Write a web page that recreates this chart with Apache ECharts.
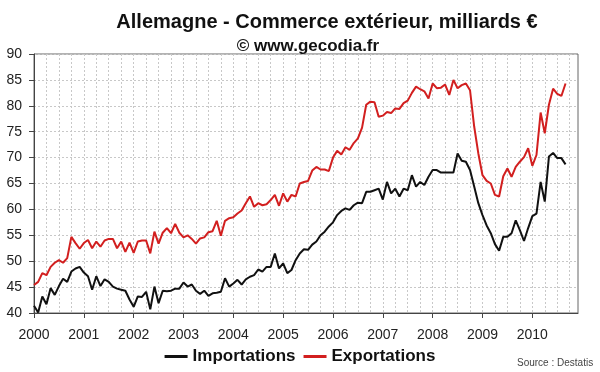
<!DOCTYPE html>
<html><head><meta charset="utf-8">
<script src="https://cdn.jsdelivr.net/npm/echarts@6/dist/echarts.min.js"></script>
<style>html,body{margin:0;padding:0;background:#fff}#c{width:600px;height:372px}</style>
</head><body><div id="c"></div>
<script>
const years = ['2000','2001','2002','2003','2004','2005','2006','2007','2008','2009','2010'];
const yTicks = [40,45,50,55,60,65,70,75,80,85,90];
const importations = [
41.4,40.1,43.2,41.7,44.8,43.5,45.2,46.6,46.0,48.0,48.6,48.9,
47.8,47.1,44.5,47.1,45.2,46.5,46.0,45.1,44.7,44.5,44.3,42.6,
41.2,43.2,43.1,44.1,40.7,45.1,41.9,44.3,44.2,44.3,44.7,44.7,
45.9,45.1,45.5,44.3,43.7,44.3,43.3,43.8,43.9,44.1,46.7,45.1,
45.7,46.4,45.5,46.5,47.0,47.3,48.4,48.0,48.9,48.9,51.5,48.6,
49.6,47.7,48.3,50.2,51.5,52.3,52.2,53.2,53.8,55.0,55.7,56.7,
57.5,58.9,59.7,60.2,59.9,60.8,61.3,61.2,63.4,63.4,63.7,64.0,
61.9,65.3,63.1,64.0,62.5,64.0,63.7,66.6,64.4,65.3,64.7,66.3,
67.6,67.6,67.1,67.1,67.1,67.1,70.8,69.4,69.2,67.6,64.4,61.2,
58.9,56.9,55.4,53.3,52.0,54.7,54.7,55.4,57.9,56.0,53.9,56.4,
58.7,59.2,65.3,61.5,70.2,70.9,69.9,69.9,68.7
];
const exportations = [
45.4,46.0,47.7,47.3,48.9,49.7,50.2,49.7,50.6,54.7,53.5,52.4,
53.5,54.1,52.5,53.8,52.8,54.0,54.3,54.3,52.5,53.8,51.8,53.6,
51.6,53.8,54.0,54.0,51.5,55.7,53.4,55.5,56.4,55.4,57.2,55.5,
54.6,55.0,54.3,53.4,54.4,54.6,55.6,55.8,57.8,54.9,57.8,58.3,
58.5,59.2,59.8,61.2,62.5,60.5,61.2,60.8,61.0,61.8,62.8,60.7,
63.1,61.5,62.8,62.5,65.0,65.3,65.5,67.5,68.2,67.7,67.7,67.4,
70.0,71.3,70.6,72.0,71.5,72.8,73.7,75.8,80.2,80.8,80.7,77.9,
78.1,78.8,78.6,79.5,79.4,80.5,81.0,82.5,83.7,83.2,82.8,81.4,
84.3,83.4,83.5,84.1,82.1,85.0,83.4,84.0,84.3,83.0,76.0,70.8,
66.6,65.5,65.0,62.8,62.5,66.4,67.9,66.3,68.2,69.2,70.1,71.8,
68.4,70.5,78.7,74.7,80.2,83.3,82.3,81.9,84.3
];
const months = [];
years.forEach(y => { for (let m = 1; m <= 12; m++) months.push(y + '-' + (m < 10 ? '0' + m : m)); });

const chart = echarts.init(document.getElementById('c'), null, {renderer: 'canvas'});
chart.setOption({
  animation: false,
  backgroundColor: '#fff',
  title: [
    {text: 'Allemagne - Commerce extérieur, milliards €', left: 322, top: 7, textAlign: 'center',
     textStyle: {fontFamily: 'Liberation Sans, Arial', fontSize: 20, fontWeight: 'bold', color: '#111'}},
    {text: '© www.gecodia.fr', left: 303, top: 33, textAlign: 'center',
     textStyle: {fontFamily: 'Liberation Sans, Arial', fontSize: 17, fontWeight: 'bold', color: '#111'}},
    {text: 'Source : Destatis', left: 512, top: 353,
     textStyle: {fontFamily: 'Liberation Sans, Arial', fontSize: 10, fontWeight: 'normal', color: '#444'}}
  ],
  legend: {
    top: 343, left: 'center', itemGap: 8, itemWidth: 23, itemHeight: 3, icon: 'rect',
    textStyle: {fontFamily: 'Liberation Sans, Arial', fontSize: 17, fontWeight: 'bold', color: '#111'},
    data: ['Importations', 'Exportations']
  },
  grid: {left: 34, right: 22, top: 54, bottom: 59, show: true, borderColor: '#666', borderWidth: 1},
  xAxis: {
    type: 'category', data: months, boundaryGap: false,
    axisLine: {lineStyle: {color: '#444'}},
    axisTick: {length: 5, lineStyle: {color: '#444'}, interval: (i) => i % 12 === 0},
    axisLabel: {interval: (i) => i % 12 === 0, formatter: (v) => v.slice(0, 4), margin: 15,
      fontFamily: 'Liberation Sans, Arial', fontSize: 14, color: '#222'},
    splitLine: {show: true, interval: (i) => i % 3 === 0 && i > 0, lineStyle: {color: '#c8c8c8', type: [2, 2], width: 1}}
  },
  yAxis: {
    type: 'value', min: 40, max: 90, interval: 5,
    axisLine: {show: true, lineStyle: {color: '#444'}},
    axisTick: {show: true, length: 5, lineStyle: {color: '#444'}},
    axisLabel: {margin: 12, fontFamily: 'Liberation Sans, Arial', fontSize: 14, color: '#222',
      formatter: (v) => yTicks.includes(v) ? String(v) : ''},
    splitLine: {show: true, lineStyle: {color: '#c8c8c8', type: [2, 2], width: 1}}
  },
  series: [
    {name: 'Importations', type: 'line', data: importations, symbol: 'none', color: '#111',
     lineStyle: {width: 2, color: '#111'}, z: 3},
    {name: 'Exportations', type: 'line', data: exportations, symbol: 'none', color: '#d21f1f',
     lineStyle: {width: 2, color: '#d21f1f'}, z: 2}
  ]
});
</script></body></html>
